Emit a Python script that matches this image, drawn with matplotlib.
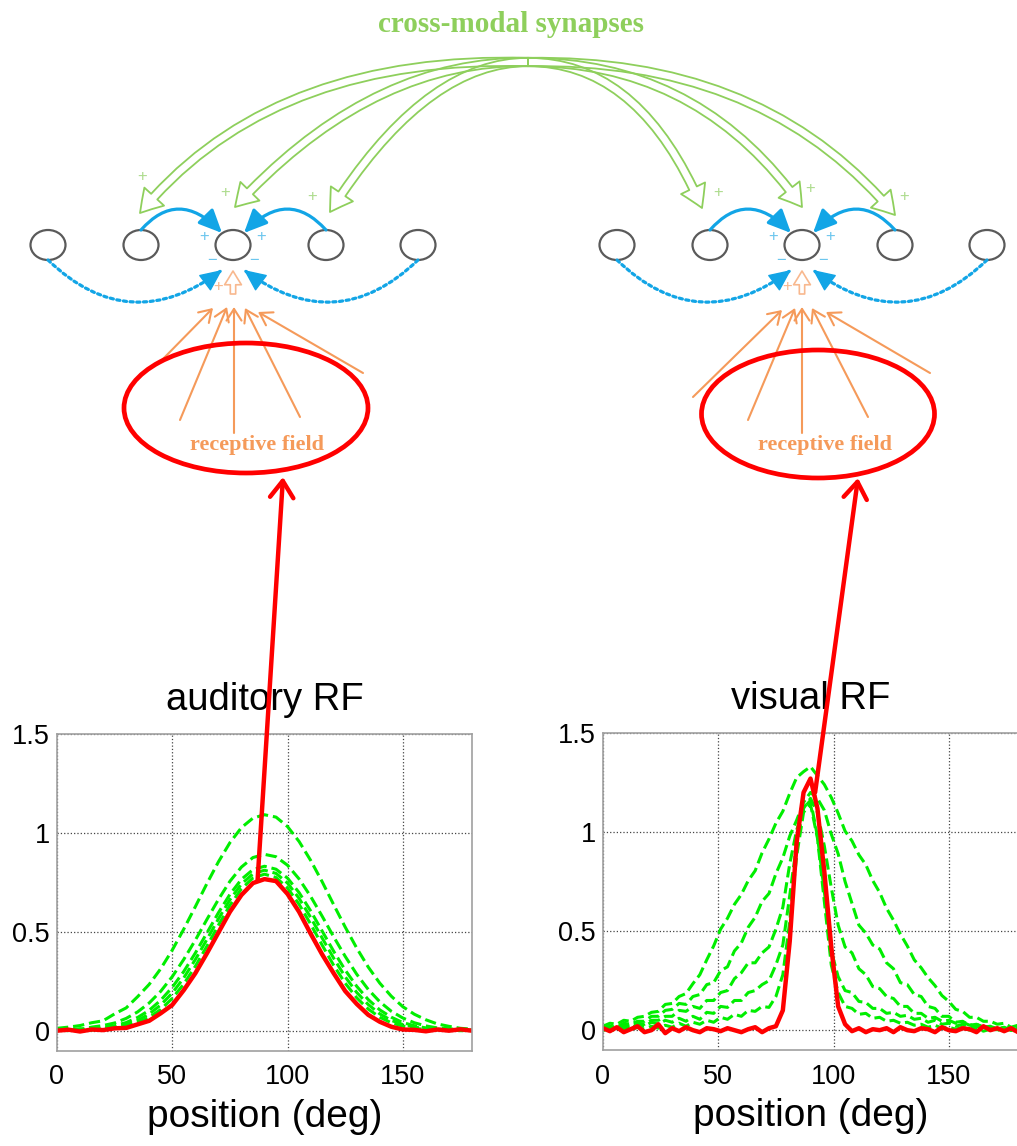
import numpy as np
import matplotlib
matplotlib.use("Agg")
import matplotlib.pyplot as plt
from matplotlib.patches import Ellipse, FancyArrowPatch
from matplotlib.path import Path

plt.rcParams['font.family'] = ['Liberation Sans', 'DejaVu Sans']

# ---------------- data ----------------
# auditory RF, sampled every 5 deg
audX = np.arange(0, 181, 5)
audRed = [0.0, 0.005, -0.004, 0.006, 0.003, 0.012, 0.014, 0.032, 0.05, 0.088, 0.13, 0.205, 0.29,
          0.39, 0.495, 0.60, 0.685, 0.745, 0.765, 0.755, 0.69, 0.60, 0.49, 0.385, 0.29, 0.20,
          0.135, 0.08, 0.045, 0.02, 0.006, 0.004, -0.003, 0.006, 0.0, 0.007, 0.0]
audG1 = [0.012, 0.018, 0.026, 0.04, 0.05, 0.085, 0.115, 0.172, 0.234, 0.313, 0.407, 0.513, 0.626,
         0.742, 0.852, 0.949, 1.025, 1.073, 1.09, 1.078, 1.03, 0.955, 0.86, 0.752, 0.636, 0.523,
         0.417, 0.321, 0.24, 0.174, 0.121, 0.083, 0.055, 0.034, 0.022, 0.012, 0.008]
audG2 = [0.004, 0.01, 0.006, 0.018, 0.026, 0.039, 0.062, 0.095, 0.140, 0.199, 0.273, 0.360, 0.457,
         0.561, 0.662, 0.754, 0.826, 0.874, 0.89, 0.878, 0.835, 0.766, 0.678, 0.578, 0.474, 0.375,
         0.285, 0.208, 0.146, 0.098, 0.064, 0.04, 0.024, 0.014, 0.01, 0.004, 0.002]
audG3 = [0.006, 0.002, 0.01, 0.006, 0.016, 0.025, 0.041, 0.067, 0.103, 0.154, 0.219, 0.299, 0.392,
         0.493, 0.595, 0.688, 0.764, 0.813, 0.83, 0.815, 0.77, 0.697, 0.605, 0.503, 0.401, 0.306,
         0.224, 0.157, 0.105, 0.068, 0.041, 0.025, 0.014, 0.008, 0.006, 0.002, 0.004]
audG4 = [0.0, 0.008, 0.002, 0.009, 0.010, 0.018, 0.031, 0.052, 0.084, 0.130, 0.190, 0.267, 0.359,
         0.460, 0.564, 0.661, 0.740, 0.792, 0.81, 0.794, 0.745, 0.668, 0.572, 0.468, 0.366, 0.272,
         0.193, 0.132, 0.085, 0.052, 0.031, 0.018, 0.010, 0.005, 0.006, 0.001, 0.003]
audG5 = [0.003, 0.0, 0.006, 0.003, 0.009, 0.012, 0.023, 0.040, 0.067, 0.107, 0.163, 0.236, 0.325,
         0.426, 0.532, 0.633, 0.716, 0.771, 0.79, 0.773, 0.72, 0.638, 0.538, 0.432, 0.33, 0.24,
         0.166, 0.109, 0.068, 0.040, 0.023, 0.012, 0.006, 0.003, 0.004, 0.0, 0.002]
audGreens = [audG1, audG2, audG3, audG4, audG5]

# visual RF, sampled every 3 deg
visX = np.arange(0, 181, 3)
visRed = [0.01, -0.005, 0.015, -0.01, 0.005, 0.02, -0.01, 0.0, 0.03, -0.015,
          0.01, -0.005, 0.015, 0.0, -0.01, 0.01, 0.005, -0.005, 0.01, 0.0,
          -0.01, 0.005, 0.015, -0.01, 0.01, 0.02, 0.10, 0.45, 0.95, 1.2,
          1.27,
          1.12, 0.8, 0.42, 0.12, 0.03, -0.005, 0.01, -0.01, 0.005, 0.0,
          0.01, -0.01, 0.015, 0.0, -0.005, 0.01, 0.005, -0.01, 0.015, 0.0,
          -0.005, 0.01, 0.005, -0.01, 0.02, 0.0, 0.01, -0.005, 0.01, -0.01]
visG1 = [0.02, 0.035, 0.03, 0.05, 0.045, 0.065, 0.07, 0.09, 0.095, 0.13,
         0.135, 0.17, 0.185, 0.235, 0.28, 0.355, 0.425, 0.51, 0.565, 0.635,
         0.685, 0.755, 0.805, 0.895, 0.965, 1.045, 1.105, 1.195, 1.275, 1.305,
         1.33,
         1.285, 1.24, 1.175, 1.095, 1.005, 0.955, 0.885, 0.835, 0.755, 0.695,
         0.615, 0.555, 0.485, 0.425, 0.355, 0.315, 0.265, 0.225, 0.175, 0.145,
         0.105, 0.095, 0.065, 0.065, 0.045, 0.045, 0.03, 0.035, 0.015, 0.025]
visG2 = [0.01, 0.02, 0.015, 0.035, 0.03, 0.045, 0.045, 0.07, 0.07, 0.1,
         0.105, 0.135, 0.13, 0.17, 0.18, 0.23, 0.24, 0.3, 0.32, 0.4,
         0.44, 0.52, 0.57, 0.65, 0.69, 0.79, 0.87, 0.98, 1.06, 1.15,
         1.2,
         1.17, 1.11, 0.99, 0.89, 0.75, 0.64, 0.53, 0.49, 0.43, 0.41,
         0.34, 0.31, 0.24, 0.23, 0.18, 0.17, 0.12, 0.11, 0.07, 0.07,
         0.04, 0.045, 0.025, 0.03, 0.015, 0.02, 0.005, 0.015, 0.0, 0.01]
visG3 = [0.005, 0.015, 0.01, 0.025, 0.02, 0.035, 0.03, 0.05, 0.05, 0.07,
         0.07, 0.1, 0.095, 0.12, 0.11, 0.15, 0.15, 0.19, 0.2, 0.26,
         0.29, 0.34, 0.34, 0.39, 0.42, 0.51, 0.62, 0.84, 1.01, 1.12,
         1.17,
         1.1, 0.93, 0.72, 0.53, 0.42, 0.39, 0.31, 0.28, 0.22, 0.21,
         0.17, 0.16, 0.12, 0.12, 0.085, 0.085, 0.06, 0.065, 0.045, 0.05,
         0.035, 0.04, 0.025, 0.03, 0.015, 0.02, 0.005, 0.015, 0.0, 0.01]
visG4 = [0.0, 0.01, 0.005, 0.02, 0.01, 0.03, 0.02, 0.04, 0.03, 0.05,
         0.04, 0.06, 0.045, 0.07, 0.055, 0.09, 0.085, 0.12, 0.115, 0.15,
         0.15, 0.19, 0.2, 0.23, 0.25, 0.33, 0.43, 0.68, 0.94, 1.12,
         1.16,
         0.98, 0.7, 0.4, 0.27, 0.2, 0.19, 0.145, 0.14, 0.11, 0.11,
         0.085, 0.09, 0.07, 0.075, 0.055, 0.06, 0.04, 0.05, 0.03, 0.035,
         0.02, 0.03, 0.015, 0.02, 0.01, 0.015, 0.0, 0.01, 0.0, 0.005]
visG5 = [0.0, 0.005, -0.005, 0.01, 0.0, 0.015, 0.005, 0.02, 0.01, 0.025,
         0.015, 0.035, 0.02, 0.04, 0.03, 0.05, 0.04, 0.065, 0.055, 0.08,
         0.07, 0.1, 0.095, 0.12, 0.115, 0.17, 0.28, 0.55, 0.88, 1.1,
         1.14,
         0.97, 0.65, 0.33, 0.19, 0.12, 0.11, 0.08, 0.085, 0.06, 0.065,
         0.045, 0.05, 0.035, 0.04, 0.025, 0.03, 0.015, 0.025, 0.01, 0.015,
         0.005, 0.015, 0.0, 0.01, -0.005, 0.005, 0.0, 0.005, -0.005, 0.0]
visGreens = [visG1, visG2, visG3, visG4, visG5]

xTicks = [0, 50, 100, 150]
yTicks = [0, 0.5, 1, 1.5]
yTickLabels = ['0', '0.5', '1', '1.5']

GREEN_LINE = '#00EE00'
BLUE = '#12A5E6'
LIGHT_BLUE = '#6CC6EE'
ORANGE = '#F59A5A'
LIGHT_ORANGE = '#F8B88E'
SYN_GREEN = '#8ECF5C'
LIGHT_GREEN = '#AEDC8E'

W, H = 1017, 1146
fig = plt.figure(figsize=(W / 100, H / 100), dpi=100)


def styleAxes(ax, title):
    """MATLAB-looking axes"""
    ax.set_xlim(0, 180)
    ax.set_ylim(-0.1, 1.5)
    ax.set_xticks(xTicks)
    ax.set_yticks(yTicks)
    ax.set_yticklabels(yTickLabels)
    ax.grid(True, linestyle=':', color='#444444', linewidth=0.9)
    for sp in ax.spines.values():
        sp.set_color('#A0A0A0')
        sp.set_linewidth(1.2)
    ax.tick_params(axis='both', length=0, labelsize=19.5)
    ax.tick_params(axis='x', pad=10)
    ax.tick_params(axis='y', pad=5)
    ax.set_title(title, fontsize=27.5, pad=17)
    ax.set_xlabel('position (deg)', fontsize=28, labelpad=6)


axAud = fig.add_axes([57 / W, 1 - 1050.5 / H, 415 / W, 317 / H])
for g in audGreens:
    axAud.plot(audX, g, color=GREEN_LINE, linestyle='--', linewidth=2.2)
axAud.plot(audX, audRed, color='red', linewidth=3.2)
styleAxes(axAud, 'auditory RF')

axVis = fig.add_axes([603 / W, 1 - 1050 / H, 415 / W, 317 / H])
for g in visGreens:
    axVis.plot(visX, g, color=GREEN_LINE, linestyle='--', linewidth=2.2)
axVis.plot(visX, visRed, color='red', linewidth=3.2)
styleAxes(axVis, 'visual RF')

# ---------------- network diagram on an overlay in pixel units ----------------
ov = fig.add_axes([0, 0, 1, 1])
ov.set_xlim(0, W)
ov.set_ylim(H, 0)
ov.axis('off')


def curvePath(start, ctrl, end):
    return Path([start, ctrl, end], [Path.MOVETO, Path.CURVE3, Path.CURVE3])


def addHead(start, ctrl, end, color, scale=20):
    """small filled arrow head at the end of a bezier"""
    e = np.array(end, float)
    d = e - np.array(ctrl, float)
    d = d / np.hypot(*d)
    ov.add_patch(FancyArrowPatch(posA=tuple(e - 10 * d), posB=tuple(e),
                                 arrowstyle='-|>,head_length=0.7,head_width=0.32',
                                 mutation_scale=scale, color=color, linewidth=1,
                                 shrinkA=0, shrinkB=0))


greenStyle = 'simple,head_length=1.3,head_width=1.6,tail_width=0.5'
synStart = (528, 62)
greenArcs = [((270, 55), (140, 213)), ((370, 60), (235, 207)), ((425, 62), (330, 212)),
             ((640, 62), (702, 208)), ((700, 62), (802, 207)), ((765, 58), (895, 215))]
for ctrl, end in greenArcs:
    ov.add_patch(FancyArrowPatch(path=curvePath(synStart, ctrl, end), arrowstyle=greenStyle,
                                 mutation_scale=12, facecolor='none', edgecolor=SYN_GREEN,
                                 linewidth=1.3))

ov.text(511, 24, 'cross-modal synapses', ha='center', va='center', fontsize=21,
        fontweight='bold', family='Liberation Serif', color=SYN_GREEN)

greenPlus = [(142, 177), (225, 193), (312, 197), (718, 193), (810, 188), (904, 197)]
for px, py in greenPlus:
    ov.text(px, py, '+', ha='center', va='center', fontsize=12, color=LIGHT_GREEN)


def drawGroup(cx, orangeStarts, orangeEnds, ellCenter, ellSize, rfX):
    off = cx - 233
    for nx in [48, 141, 233, 326, 418]:
        ov.add_patch(Ellipse((nx + off, 245), 35, 30, facecolor='white',
                             edgecolor='#5A5A5A', linewidth=1.6))
    # lateral excitation
    for s, c, e in [((141, 230), (178, 188), (222, 233)), ((326, 230), (288, 188), (244, 233))]:
        s = (s[0] + off, s[1]); c = (c[0] + off, c[1]); e = (e[0] + off, e[1])
        ov.add_patch(FancyArrowPatch(path=curvePath(s, c, e),
                                     arrowstyle='-|>,head_length=0.7,head_width=0.32',
                                     mutation_scale=20, color=BLUE, linewidth=2.3))
    # lateral inhibition (dotted)
    for s, c, e in [((48, 260), (130, 339), (222, 270)), ((418, 260), (336, 339), (244, 270))]:
        s = (s[0] + off, s[1]); c = (c[0] + off, c[1]); e = (e[0] + off, e[1])
        ov.add_patch(FancyArrowPatch(path=curvePath(s, c, e), arrowstyle='-',
                                     color=BLUE, linewidth=2.3, linestyle=(0, (1, 1.1))))
        addHead(s, c, e, BLUE)
    for px, py, t in [(204, 237, '+'), (261, 237, '+'), (212, 260, '\u2212'), (254, 260, '\u2212')]:
        ov.text(px + off, py, t, ha='center', va='center', fontsize=12, color=LIGHT_BLUE)
    # receptive field input
    ov.add_patch(FancyArrowPatch(path=curvePath((cx, 294), (cx, 283), (cx, 271)),
                                 arrowstyle='simple,head_length=0.9,head_width=1.1,tail_width=0.35',
                                 mutation_scale=11, facecolor='none', edgecolor=LIGHT_ORANGE,
                                 linewidth=1.2))
    ov.text(cx - 15, 287, '+', ha='center', va='center', fontsize=12, color=LIGHT_ORANGE)
    for s, e in zip(orangeStarts, orangeEnds):
        ov.add_patch(FancyArrowPatch(posA=s, posB=e, arrowstyle='->,head_length=0.7,head_width=0.45',
                                     mutation_scale=12, color=ORANGE, linewidth=1.5,
                                     shrinkA=0, shrinkB=0))
    ov.text(rfX, 445, 'receptive field', ha='center', va='center', fontsize=16,
            fontweight='bold', family='Liberation Serif', color=ORANGE)
    ov.add_patch(Ellipse(ellCenter, ellSize[0], ellSize[1], facecolor='none',
                         edgecolor='red', linewidth=3.4))


drawGroup(233,
          [(160, 362), (180, 420), (234, 433), (300, 417), (363, 373)],
          [(213, 308), (227, 307), (234, 307), (245, 308), (258, 312)],
          (246, 408), (244, 130), 257)
drawGroup(802,
          [(693, 397), (748, 420), (802, 433), (868, 417), (930, 373)],
          [(782, 310), (795, 308), (802, 307), (812, 308), (826, 312)],
          (818, 414), (233, 128), 825)

# red links from the RF peaks to the receptive fields
redArrow = dict(arrowstyle='->,head_length=0.6,head_width=0.42', color='red', linewidth=3.2,
                mutation_scale=20, shrinkA=0, shrinkB=0)
ov.annotate('', xy=(283, 477), xycoords='data', xytext=(87, 0.76),
            textcoords=axAud.transData, arrowprops=redArrow)
ov.annotate('', xy=(858, 478), xycoords='data', xytext=(92, 1.2),
            textcoords=axVis.transData, arrowprops=redArrow)

fig.savefig('out.png', dpi=100, facecolor='white')
